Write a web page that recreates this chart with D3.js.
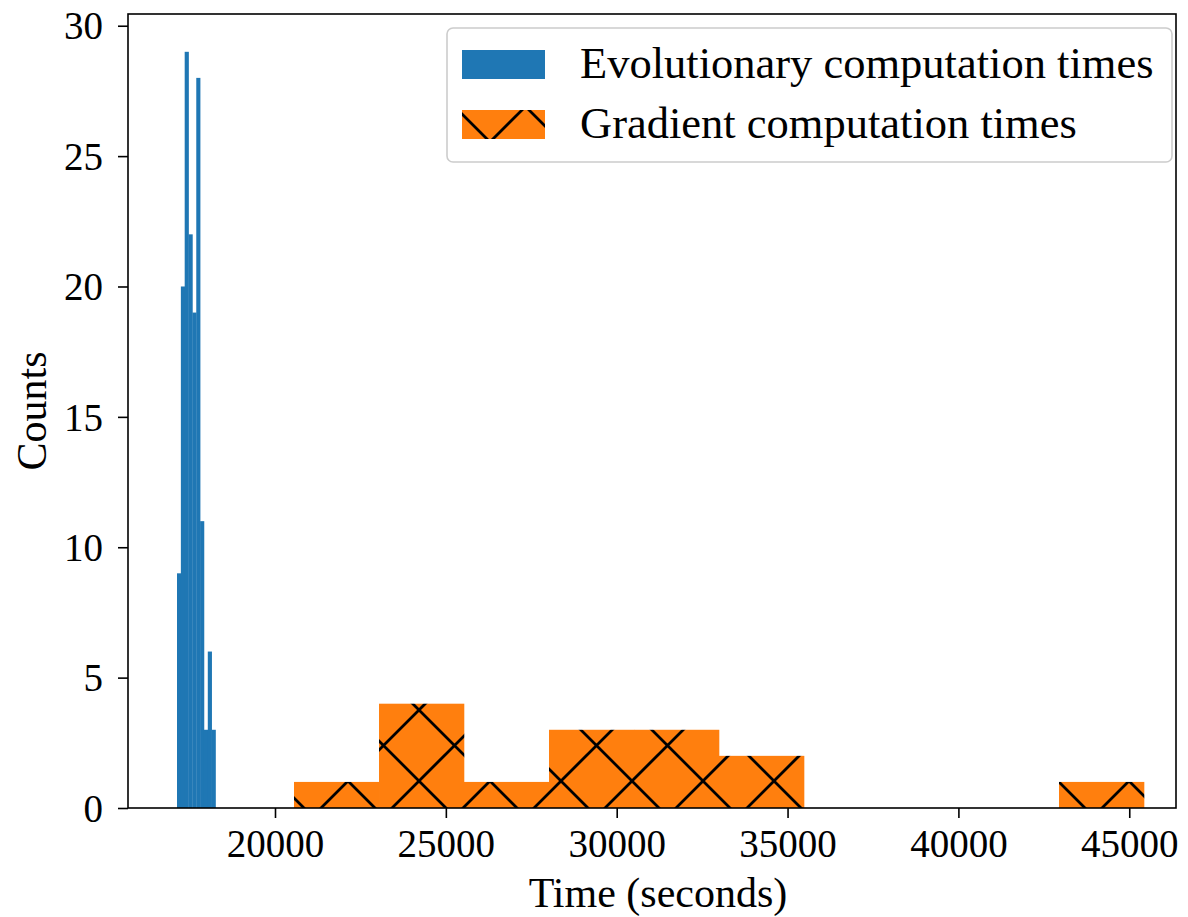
<!DOCTYPE html>
<html>
<head>
<meta charset="utf-8">
<script src="https://cdn.jsdelivr.net/npm/d3@7"></script>
<style>
  body { margin: 0; background: #fff; }
  text { font-family: "Liberation Serif", "DejaVu Serif", serif; fill: #000; }
</style>
</head>
<body>
<div id="chart"></div>
<script>
// histogram bins
const evoEdges = [17132, 17245, 17357, 17470, 17583, 17696, 17808, 17921, 18033, 18146, 18259];
const evoCounts = [9, 20, 29, 22, 19, 28, 11, 3, 6, 3];
const gradEdges = [20556, 23044, 25531, 28019, 30506, 32994, 35482, 37969, 40457, 42944, 45432];
const gradCounts = [1, 4, 1, 3, 3, 2, 0, 0, 0, 1];
const xTicks = [20000, 25000, 30000, 35000, 40000, 45000];
const yTicks = [0, 5, 10, 15, 20, 25, 30];
const seriesNames = ["Evolutionary computation times", "Gradient computation times"];

const blue = "#1f77b4", orange = "#ff7f0e";

let svgWidth = 1188, svgHeight = 917;
let margin = {top: 14, right: 12, bottom: 109, left: 128};
let width = svgWidth - margin.left - margin.right;
let height = svgHeight - margin.top - margin.bottom;

let x = d3.scaleLinear().domain([15698, 46368]).range([0, width]);
let y = d3.scaleLinear().domain([0, 30.45]).range([height, 0]);

let svg = d3.select("#chart").append("svg")
  .attr("width", svgWidth).attr("height", svgHeight);

// 'x' hatch, anchored so the lattice lines up with the picture
let hatch = 71;
let pat = svg.append("defs").append("pattern")
  .attr("id", "xhatch")
  .attr("patternUnits", "userSpaceOnUse")
  .attr("x", 291).attr("y", 696)
  .attr("width", hatch).attr("height", hatch);
pat.append("rect").attr("width", hatch).attr("height", hatch).attr("fill", orange);
let p = "";
[-hatch, 0, hatch].forEach(c => {
  p += "M" + (-10) + "," + (-10 + c) + "L" + (hatch + 10) + "," + (hatch + 10 + c);
});
[0, hatch, 2 * hatch].forEach(c => {
  p += "M" + (-10) + "," + (c + 10) + "L" + (hatch + 10) + "," + (c - hatch - 10);
});
pat.append("path").attr("d", p).attr("stroke", "#000").attr("stroke-width", 2.8).attr("fill", "none");

let g = svg.append("g").attr("transform", "translate(" + margin.left + "," + margin.top + ")");

function bins(edges, counts) {
  return counts.map((c, i) => ({x0: edges[i], x1: edges[i + 1], n: c})).filter(d => d.n > 0);
}

g.selectAll(".evo").data(bins(evoEdges, evoCounts)).enter().append("rect")
  .attr("class", "evo")
  .attr("x", d => x(d.x0))
  .attr("y", d => y(d.n))
  .attr("width", d => x(d.x1) - x(d.x0) + 0.3)
  .attr("height", d => y(0) - y(d.n))
  .attr("fill", blue);

g.selectAll(".grad").data(bins(gradEdges, gradCounts)).enter().append("rect")
  .attr("class", "grad")
  .attr("x", d => x(d.x0))
  .attr("y", d => y(d.n))
  .attr("width", d => x(d.x1) - x(d.x0) + 0.3)
  .attr("height", d => y(0) - y(d.n))
  .attr("fill", "url(#xhatch)");

// axes
let xAxis = g.append("g").attr("transform", "translate(0," + height + ")")
  .call(d3.axisBottom(x).tickValues(xTicks).tickFormat(d3.format("d")).tickSize(10).tickSizeOuter(0));
let yAxis = g.append("g")
  .call(d3.axisLeft(y).tickValues(yTicks).tickFormat(d3.format("d")).tickSize(10).tickSizeOuter(0));
[xAxis, yAxis].forEach(a => {
  a.select(".domain").remove();
  a.selectAll(".tick line").attr("stroke", "#000").attr("stroke-width", 1.6);
  a.selectAll(".tick text").attr("font-size", "39px")
    .attr("font-family", "Liberation Serif, DejaVu Serif, serif").attr("fill", "#000");
});
xAxis.selectAll(".tick text").attr("y", 14).attr("dy", "0.9em");
yAxis.selectAll(".tick text").attr("x", -25).attr("dy", "0.34em");

// frame
g.append("rect").attr("width", width).attr("height", height)
  .attr("fill", "none").attr("stroke", "#000").attr("stroke-width", 1.6);

// axis labels
g.append("text").attr("x", width / 2 + 6).attr("y", height + 99)
  .attr("text-anchor", "middle").attr("font-size", "42px").text("Time (seconds)");
g.append("text").attr("transform", "translate(" + (-82) + "," + (height / 2) + ") rotate(-90)")
  .attr("text-anchor", "middle").attr("font-size", "42px").text("Counts");

// legend
let lx = 447 - margin.left, ly = 28 - margin.top;
g.append("rect").attr("x", lx).attr("y", ly).attr("width", 725).attr("height", 134)
  .attr("rx", 6).attr("fill", "#fff").attr("fill-opacity", 0.8)
  .attr("stroke", "#cccccc").attr("stroke-width", 1.6);
let fills = [blue, "url(#xhatch)"];
seriesNames.forEach((name, i) => {
  g.append("rect").attr("x", lx + 15).attr("y", ly + 22 + i * 60)
    .attr("width", 83).attr("height", 29).attr("fill", fills[i]);
  g.append("text").attr("x", lx + 133).attr("y", ly + 50 + i * 60)
    .attr("font-size", "44.5px").text(name);
});
</script>
</body>
</html>
